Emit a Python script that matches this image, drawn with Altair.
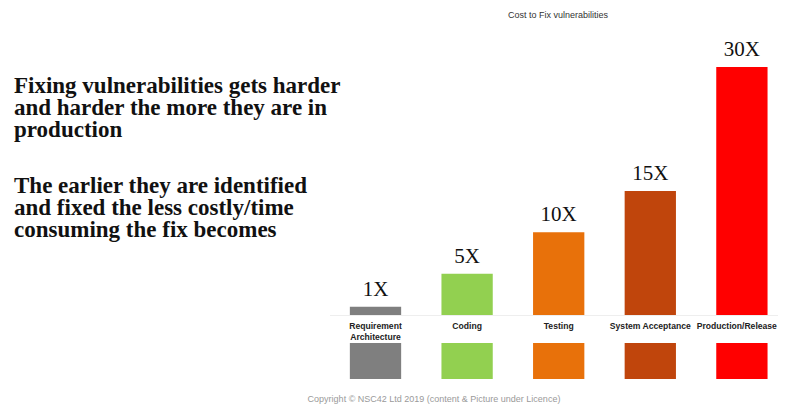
import altair as alt
import pandas as pd

# ---- data ----
categories = ["Requirement Architecture", "Coding", "Testing", "System Acceptance", "Production/Release"]
cat_labels = ["Requirement\nArchitecture", "Coding", "Testing", "System Acceptance", "Production/Release"]
values = [1, 5, 10, 15, 30]
value_labels = ["1X", "5X", "10X", "15X", "30X"]
colors = ["#7f7f7f", "#92d050", "#e8710a", "#c0450c", "#ff0000"]

title_text = "Cost to Fix vulnerabilities"
para1 = "Fixing vulnerabilities gets harder\nand harder the more they are in\nproduction"
para2 = "The earlier they are identified\nand fixed the less costly/time\nconsuming the fix becomes"
copyright_text = "Copyright \u00a9 NSC42 Ltd 2019 (content & Picture under Licence)"

df = pd.DataFrame({
    "category": categories,
    "cat_label": cat_labels,
    "value": values,
    "label": value_labels,
})

SERIF = "Liberation Serif"
SANS = "Liberation Sans"
last_cat = categories[-1]

xs = alt.X("category:N", sort=categories, axis=None,
           scale=alt.Scale(range=[321.7, 779.7], paddingInner=0.44, paddingOuter=0.22))
ys = alt.Y("value:Q", axis=None, scale=alt.Scale(domain=[0, 30], range=[307, 59]))
col = alt.Color("category:N", scale=alt.Scale(domain=categories, range=colors), legend=None)

base = alt.Chart(df)
one = pd.DataFrame({"d": [0]})

baseline_rule = alt.Chart(one).mark_rule(color="#eeeeee", strokeWidth=1).encode(
    x=alt.value(322), x2=alt.value(770), y=alt.value(307.5)
)

bars = base.mark_bar().encode(x=xs, y=ys, y2=alt.datum(0), color=col)

bar_text = base.mark_text(font=SERIF, fontSize=21, baseline="alphabetic", dy=-11, color="#111111").encode(
    x=xs, y=ys, text="label:N"
)

cat_text = base.transform_filter(alt.datum.category != last_cat).mark_text(
    font=SANS, fontSize=8.6, fontWeight="bold", baseline="top",
    lineBreak="\n", lineHeight=11, color="#222222").encode(
    x=xs, y=alt.value(314), text="cat_label:N"
)

cat_text_last = base.transform_filter(alt.datum.category == last_cat).mark_text(
    font=SANS, fontSize=8.6, fontWeight="bold", baseline="top", align="right", dx=35,
    color="#222222").encode(
    x=xs, y=alt.value(314), text="cat_label:N"
)

squares = base.mark_bar().encode(x=xs, y=alt.value(335), y2=alt.value(371), color=col)

title = alt.Chart(one).mark_text(font=SANS, fontSize=9, color="#333333", baseline="middle", align="center").encode(
    x=alt.value(550), y=alt.value(7), text=alt.value(title_text)
)

p1 = alt.Chart(one).mark_text(font=SERIF, fontSize=23, fontWeight="bold", align="left",
                              baseline="alphabetic", lineBreak="\n", lineHeight=22, color="#111111").encode(
    x=alt.value(6), y=alt.value(85), text=alt.value(para1)
)

p2 = alt.Chart(one).mark_text(font=SERIF, fontSize=23, fontWeight="bold", align="left",
                              baseline="alphabetic", lineBreak="\n", lineHeight=22, color="#111111").encode(
    x=alt.value(6), y=alt.value(185), text=alt.value(para2)
)

copy = alt.Chart(one).mark_text(font=SANS, fontSize=9, color="#9a9a9a", baseline="middle", align="center").encode(
    x=alt.value(426), y=alt.value(391), text=alt.value(copyright_text)
)

chart = alt.layer(baseline_rule, bars, bar_text, cat_text, cat_text_last, squares, title, p1, p2, copy).properties(
    width=770, height=396,
    autosize=alt.AutoSizeParams(type="none"),
    padding=0,
    background="white",
).configure_view(stroke=None)

chart.save("out.html", embed_options={"renderer": "svg", "actions": False})
